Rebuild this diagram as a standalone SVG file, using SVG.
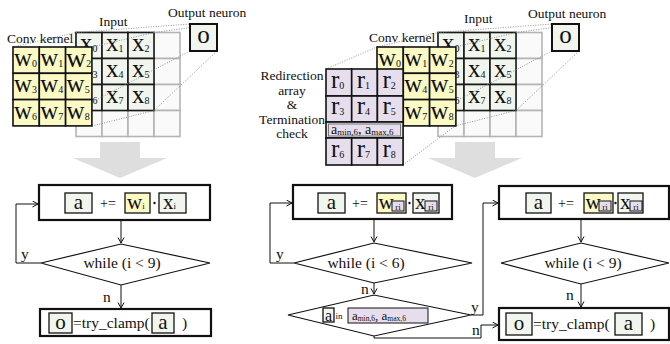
<svg xmlns="http://www.w3.org/2000/svg" width="670" height="344" viewBox="0 0 670 344" font-family="'Liberation Serif', 'DejaVu Serif', serif">
<defs>
<style>
text { font-family: 'Liberation Serif', 'DejaVu Serif', serif; fill: #111; }
.lbl { font-size: 13.5px; }
.v { font-size: 25px; }
.s { font-size: 10px; }
.fv { font-size: 21px; }
.fs { font-size: 9px; }
.op { font-size: 14px; }
.ft { font-size: 15.5px; }
.in-cell { fill: #fafafa; stroke: #b4b4b4; stroke-width: 1.6; }
.rf-cell { fill: #f0f5ee; stroke: #1a1a1a; stroke-width: 1.6; }
.k-cell { fill: #fbf9c4; stroke: #111; stroke-width: 1.6; }
.r-cell { fill: #e6deec; stroke: #111; stroke-width: 1.6; }
.dot { stroke: #888; stroke-width: 0.9; stroke-dasharray: 1 1.5; fill: none; }
.big { fill: #fff; stroke: #111; stroke-width: 2.2; }
.box-g { fill: #f0f5ee; stroke: #111; stroke-width: 1.3; }
.box-y { fill: #fbf9c4; stroke: #111; stroke-width: 1.3; }
.box-p { fill: #e6deec; stroke: #111; stroke-width: 1; }
.dia { fill: #fff; stroke: #111; stroke-width: 1.2; }
.wire { fill: none; stroke: #111; stroke-width: 1; }
.flow { fill: #dedede; }
</style>
<marker id="ah" markerWidth="8" markerHeight="8" refX="6" refY="3.5" orient="auto" markerUnits="userSpaceOnUse">
<path d="M0.5,0.5 L6,3.5 L0.5,6.5" fill="none" stroke="#111" stroke-width="1"/>
</marker>
</defs>

<!-- ============ Left panel: plain convolution ============ -->
<g id="left-input">
<text class="lbl" x="99" y="26">Input</text>
<g>
<rect class="in-cell" x="76" y="32.5" width="26" height="26"/><rect class="in-cell" x="102" y="32.5" width="26" height="26"/><rect class="in-cell" x="128" y="32.5" width="26" height="26"/><rect class="in-cell" x="154" y="32.5" width="26" height="26"/>
<rect class="in-cell" x="76" y="58.5" width="26" height="26"/><rect class="in-cell" x="102" y="58.5" width="26" height="26"/><rect class="in-cell" x="128" y="58.5" width="26" height="26"/><rect class="in-cell" x="154" y="58.5" width="26" height="26"/>
<rect class="in-cell" x="76" y="84.5" width="26" height="26"/><rect class="in-cell" x="102" y="84.5" width="26" height="26"/><rect class="in-cell" x="128" y="84.5" width="26" height="26"/><rect class="in-cell" x="154" y="84.5" width="26" height="26"/>
<rect class="in-cell" x="76" y="110.5" width="26" height="26"/><rect class="in-cell" x="102" y="110.5" width="26" height="26"/><rect class="in-cell" x="128" y="110.5" width="26" height="26"/><rect class="in-cell" x="154" y="110.5" width="26" height="26"/>
</g>
<g>
<rect class="rf-cell" x="76" y="32.5" width="26" height="26"/><rect class="rf-cell" x="102" y="32.5" width="26" height="26"/><rect class="rf-cell" x="128" y="32.5" width="26" height="26"/>
<rect class="rf-cell" x="76" y="58.5" width="26" height="26"/><rect class="rf-cell" x="102" y="58.5" width="26" height="26"/><rect class="rf-cell" x="128" y="58.5" width="26" height="26"/>
<rect class="rf-cell" x="76" y="84.5" width="26" height="26"/><rect class="rf-cell" x="102" y="84.5" width="26" height="26"/><rect class="rf-cell" x="128" y="84.5" width="26" height="26"/>
</g>
<text class="v" x="80" y="51">x<tspan class="s" dy="1">0</tspan></text>
<text class="v" x="106" y="51">x<tspan class="s" dy="1">1</tspan></text>
<text class="v" x="132" y="51">x<tspan class="s" dy="1">2</tspan></text>
<text class="v" x="80" y="77">x<tspan class="s" dy="1">3</tspan></text>
<text class="v" x="106" y="77">x<tspan class="s" dy="1">4</tspan></text>
<text class="v" x="132" y="77">x<tspan class="s" dy="1">5</tspan></text>
<text class="v" x="80" y="103">x<tspan class="s" dy="1">6</tspan></text>
<text class="v" x="106" y="103">x<tspan class="s" dy="1">7</tspan></text>
<text class="v" x="132" y="103">x<tspan class="s" dy="1">8</tspan></text>
</g>

<g id="left-projection">
<path class="dot" d="M13,47 L76,32.5 M92,47 L154,32.5 M92,126 L154,110.5"/>
<path class="dot" d="M76,32.5 L190,24 M154,32.5 L217,24 M154,110.5 L217,51 M76,110.5 L190,51"/>
</g>

<g id="left-kernel">
<text class="lbl" x="7" y="43">Conv kernel</text>
<rect class="k-cell" x="13" y="47" width="26.3" height="26.3"/><rect class="k-cell" x="39.3" y="47" width="26.3" height="26.3"/><rect class="k-cell" x="65.6" y="47" width="26.3" height="26.3"/>
<rect class="k-cell" x="13" y="73.3" width="26.3" height="26.3"/><rect class="k-cell" x="39.3" y="73.3" width="26.3" height="26.3"/><rect class="k-cell" x="65.6" y="73.3" width="26.3" height="26.3"/>
<rect class="k-cell" x="13" y="99.6" width="26.3" height="26.3"/><rect class="k-cell" x="39.3" y="99.6" width="26.3" height="26.3"/><rect class="k-cell" x="65.6" y="99.6" width="26.3" height="26.3"/>
<text class="v" x="14" y="66">w<tspan class="s" dy="1">0</tspan></text>
<text class="v" x="40.3" y="66">w<tspan class="s" dy="1">1</tspan></text>
<text x="66" y="67" style="font-size:28px">w<tspan class="s" dy="0">2</tspan></text>
<text class="v" x="14" y="92">w<tspan class="s" dy="1">3</tspan></text>
<text class="v" x="40.3" y="92">w<tspan class="s" dy="1">4</tspan></text>
<text class="v" x="66.6" y="92">w<tspan class="s" dy="1">5</tspan></text>
<text class="v" x="14" y="118.5">w<tspan class="s" dy="1">6</tspan></text>
<text class="v" x="40.3" y="118.5">w<tspan class="s" dy="1">7</tspan></text>
<text class="v" x="66.6" y="118.5">w<tspan class="s" dy="1">8</tspan></text>
</g>

<g id="left-output">
<text class="lbl" x="168" y="17">Output neuron</text>
<rect x="190" y="24" width="27" height="27" fill="#f0f5ee" stroke="#111" stroke-width="2"/>
<text class="v" x="203.5" y="43" text-anchor="middle">o</text>
</g>

<g id="left-arrow">
<path class="flow" d="M100,142 H140 V158 H167 L120,178 L73,158 H100 Z"/>
</g>

<!-- ============ Right panel: redirected convolution ============ -->
<g id="right-input">
<text class="lbl" x="464" y="22.5">Input</text>
<g>
<rect class="in-cell" x="438" y="32.5" width="26" height="26"/><rect class="in-cell" x="464" y="32.5" width="26" height="26"/><rect class="in-cell" x="490" y="32.5" width="26" height="26"/><rect class="in-cell" x="516" y="32.5" width="26" height="26"/>
<rect class="in-cell" x="438" y="58.5" width="26" height="26"/><rect class="in-cell" x="464" y="58.5" width="26" height="26"/><rect class="in-cell" x="490" y="58.5" width="26" height="26"/><rect class="in-cell" x="516" y="58.5" width="26" height="26"/>
<rect class="in-cell" x="438" y="84.5" width="26" height="26"/><rect class="in-cell" x="464" y="84.5" width="26" height="26"/><rect class="in-cell" x="490" y="84.5" width="26" height="26"/><rect class="in-cell" x="516" y="84.5" width="26" height="26"/>
<rect class="in-cell" x="438" y="110.5" width="26" height="26"/><rect class="in-cell" x="464" y="110.5" width="26" height="26"/><rect class="in-cell" x="490" y="110.5" width="26" height="26"/><rect class="in-cell" x="516" y="110.5" width="26" height="26"/>
</g>
<g>
<rect class="rf-cell" x="438" y="32.5" width="26" height="26"/><rect class="rf-cell" x="464" y="32.5" width="26" height="26"/><rect class="rf-cell" x="490" y="32.5" width="26" height="26"/>
<rect class="rf-cell" x="438" y="58.5" width="26" height="26"/><rect class="rf-cell" x="464" y="58.5" width="26" height="26"/><rect class="rf-cell" x="490" y="58.5" width="26" height="26"/>
<rect class="rf-cell" x="438" y="84.5" width="26" height="26"/><rect class="rf-cell" x="464" y="84.5" width="26" height="26"/><rect class="rf-cell" x="490" y="84.5" width="26" height="26"/>
</g>
<text class="v" x="442" y="51">x<tspan class="s" dy="1">0</tspan></text>
<text class="v" x="468" y="51">x<tspan class="s" dy="1">1</tspan></text>
<text class="v" x="494" y="51">x<tspan class="s" dy="1">2</tspan></text>
<text class="v" x="442" y="77">x<tspan class="s" dy="1">3</tspan></text>
<text class="v" x="468" y="77">x<tspan class="s" dy="1">4</tspan></text>
<text class="v" x="494" y="77">x<tspan class="s" dy="1">5</tspan></text>
<text class="v" x="442" y="103">x<tspan class="s" dy="1">6</tspan></text>
<text class="v" x="468" y="103">x<tspan class="s" dy="1">7</tspan></text>
<text class="v" x="494" y="103">x<tspan class="s" dy="1">8</tspan></text>
</g>

<g id="right-projection">
<path class="dot" d="M377,47 L438,32.5 M455,47 L516,32.5 M455,126 L516,110.5"/>
<path class="dot" d="M438,32.5 L552,24 M516,32.5 L579,24 M516,110.5 L579,51 M438,110.5 L552,51"/>
<path class="dot" d="M326,69 L377,47 M403,165 L455,126"/>
</g>

<g id="right-kernel">
<text class="lbl" x="369" y="42">Conv kernel</text>
<rect class="k-cell" x="377" y="47" width="26.3" height="26.3"/><rect class="k-cell" x="403.3" y="47" width="26.3" height="26.3"/><rect class="k-cell" x="429.6" y="47" width="26.3" height="26.3"/>
<rect class="k-cell" x="377" y="73.3" width="26.3" height="26.3"/><rect class="k-cell" x="403.3" y="73.3" width="26.3" height="26.3"/><rect class="k-cell" x="429.6" y="73.3" width="26.3" height="26.3"/>
<rect class="k-cell" x="377" y="99.6" width="26.3" height="26.3"/><rect class="k-cell" x="403.3" y="99.6" width="26.3" height="26.3"/><rect class="k-cell" x="429.6" y="99.6" width="26.3" height="26.3"/>
<text class="v" x="378" y="66">w<tspan class="s" dy="1">0</tspan></text>
<text class="v" x="404.3" y="66">w<tspan class="s" dy="1">1</tspan></text>
<text class="v" x="430.6" y="66">w<tspan class="s" dy="1">2</tspan></text>
<text class="v" x="404.3" y="92">w<tspan class="s" dy="1">4</tspan></text>
<text class="v" x="430.6" y="92">w<tspan class="s" dy="1">5</tspan></text>
<text class="v" x="404.3" y="118.5">w<tspan class="s" dy="1">7</tspan></text>
<text class="v" x="430.6" y="118.5">w<tspan class="s" dy="1">8</tspan></text>
</g>

<g id="redirection-array">
<text class="lbl" text-anchor="middle" x="292" y="80">Redirection</text>
<text class="lbl" text-anchor="middle" x="292" y="94.5">array</text>
<text class="lbl" text-anchor="middle" x="292" y="109">&amp;</text>
<text class="lbl" text-anchor="middle" x="292" y="123.5">Termination</text>
<text class="lbl" text-anchor="middle" x="292" y="138">check</text>
<rect class="r-cell" x="326" y="69" width="25.7" height="27"/><rect class="r-cell" x="351.7" y="69" width="25.7" height="27"/><rect class="r-cell" x="377.4" y="69" width="25.7" height="27"/>
<rect class="r-cell" x="326" y="96" width="25.7" height="26"/><rect class="r-cell" x="351.7" y="96" width="25.7" height="26"/><rect class="r-cell" x="377.4" y="96" width="25.7" height="26"/>
<rect class="r-cell" x="326" y="122" width="77.1" height="16"/>
<rect x="328.5" y="124" width="72" height="12" fill="#e6deec" stroke="#777" stroke-width="1"/>
<rect class="r-cell" x="326" y="138" width="25.7" height="27"/><rect class="r-cell" x="351.7" y="138" width="25.7" height="27"/><rect class="r-cell" x="377.4" y="138" width="25.7" height="27"/>
<text class="v" x="331" y="88">r<tspan class="s" dy="1">0</tspan></text>
<text class="v" x="356.7" y="88">r<tspan class="s" dy="1">1</tspan></text>
<text class="v" x="382.4" y="88">r<tspan class="s" dy="1">2</tspan></text>
<text class="v" x="331" y="114">r<tspan class="s" dy="1">3</tspan></text>
<text class="v" x="356.7" y="114">r<tspan class="s" dy="1">4</tspan></text>
<text class="v" x="382.4" y="114">r<tspan class="s" dy="1">5</tspan></text>
<text x="331" y="134" style="font-size:14px">a<tspan class="fs" dy="1">min,6</tspan><tspan dy="-1">, a</tspan><tspan class="fs" dy="1">max,6</tspan></text>
<text class="v" x="331" y="157">r<tspan class="s" dy="1">6</tspan></text>
<text class="v" x="356.7" y="157">r<tspan class="s" dy="1">7</tspan></text>
<text class="v" x="382.4" y="157">r<tspan class="s" dy="1">8</tspan></text>
</g>

<g id="right-output">
<text class="lbl" x="528" y="17.5">Output neuron</text>
<rect x="552" y="24" width="27" height="27" fill="#f0f5ee" stroke="#111" stroke-width="2"/>
<text class="v" x="565.5" y="43" text-anchor="middle">o</text>
</g>

<g id="right-arrow">
<path class="flow" d="M455,142 H495 V158 H522 L475,178 L428,158 H455 Z"/>
</g>

<!-- ============ Flowchart: plain loop ============ -->
<g id="l-accum">
<rect class="big" x="39" y="185" width="171" height="35"/>
<rect class="box-g" x="65" y="193" width="27" height="20"/>
<text class="fv" x="78.5" y="209" text-anchor="middle">a</text>
<text class="op" x="100" y="208">+=</text>
<rect class="box-y" x="125" y="193" width="25" height="20"/>
<text class="fv" x="127" y="209">w<tspan class="fs" dy="0">i</tspan></text>
<circle cx="154.5" cy="203" r="1.2" fill="#111"/>
<rect class="box-g" x="159" y="193" width="27" height="20"/>
<text class="fv" x="163" y="209">x<tspan class="fs" dy="0">i</tspan></text>
</g>
<g id="l-while">
<polygon class="dia" points="41,263 121,244 210,263 121,285"/>
<text class="ft" x="122" y="268" text-anchor="middle">while (i &lt; 9)</text>
</g>
<g id="l-clamp">
<rect class="big" x="40" y="309" width="171" height="27"/>
<rect class="box-g" x="49" y="313" width="23" height="20"/>
<text class="fv" x="60.5" y="328.5" text-anchor="middle">o</text>
<text class="ft" x="73" y="328">=try_clamp(</text>
<rect class="box-g" x="152" y="313" width="22" height="20"/>
<text class="fv" x="163" y="328.5" text-anchor="middle">a</text>
<text class="ft" x="182" y="328">)</text>
</g>

<!-- ============ Flowchart: redirected loop with early exit ============ -->
<g id="m-accum">
<rect class="big" x="293" y="185" width="159" height="34"/>
<rect class="box-g" x="318" y="193" width="27" height="20"/>
<text class="fv" x="331.5" y="209" text-anchor="middle">a</text>
<text class="op" x="352" y="208">+=</text>
<rect class="box-y" x="377" y="193" width="29" height="20"/>
<text class="fv" x="378.5" y="209">w</text>
<rect class="box-p" x="392" y="201" width="12" height="10"/>
<text class="fs" x="398" y="209.5" text-anchor="middle">ri</text>
<circle cx="409.5" cy="203" r="1.2" fill="#111"/>
<rect class="box-g" x="413" y="193" width="26" height="20"/>
<text class="fv" x="415" y="209">x</text>
<rect class="box-p" x="425" y="201" width="12" height="10"/>
<text class="fs" x="431" y="209.5" text-anchor="middle">ri</text>
</g>
<g id="m-while">
<polygon class="dia" points="294,263 374,243 472,263 374,283"/>
<text class="ft" x="366" y="268" text-anchor="middle">while (i &lt; 6)</text>
</g>
<g id="m-check">
<polygon class="dia" points="288,315 374,295 471,315 374,336"/>
<rect class="box-g" x="323" y="308" width="11" height="14"/>
<text x="328.5" y="320.5" text-anchor="middle" style="font-size:16px">a</text>
<text x="335.5" y="319" style="font-size:9px">in</text>
<rect class="box-p" x="348" y="308" width="80" height="15" stroke-width="1.3"/>
<text x="352" y="320" style="font-size:13px">a<tspan style="font-size:7.5px" dy="1">min,6</tspan><tspan dy="-1">, a</tspan><tspan style="font-size:7.5px" dy="1">max,6</tspan></text>
</g>

<!-- ============ Flowchart: remaining iterations ============ -->
<g id="r-accum">
<rect class="big" x="499" y="186" width="170" height="33"/>
<rect class="box-g" x="526" y="193" width="25" height="20"/>
<text class="fv" x="538.5" y="209" text-anchor="middle">a</text>
<text class="op" x="558" y="208">+=</text>
<rect class="box-y" x="584" y="193" width="29" height="20"/>
<text class="fv" x="585.5" y="209">w</text>
<rect class="box-p" x="599" y="201" width="12" height="10"/>
<text class="fs" x="605" y="209.5" text-anchor="middle">ri</text>
<circle cx="615.5" cy="203" r="1.2" fill="#111"/>
<rect class="box-g" x="618" y="193" width="25" height="20"/>
<text class="fv" x="620" y="209">x</text>
<rect class="box-p" x="630" y="201" width="12" height="10"/>
<text class="fs" x="636" y="209.5" text-anchor="middle">ri</text>
</g>
<g id="r-while">
<polygon class="dia" points="501,263 581,243 669,263 581,284"/>
<text class="ft" x="583" y="268" text-anchor="middle">while (i &lt; 9)</text>
</g>
<g id="r-clamp">
<rect class="big" x="499" y="308" width="170" height="32"/>
<rect class="box-g" x="506" y="313" width="26" height="22"/>
<text class="fv" x="519" y="329.5" text-anchor="middle">o</text>
<text class="ft" x="533" y="329">=try_clamp(</text>
<rect class="box-g" x="615" y="313" width="27" height="22"/>
<text class="fv" x="628.5" y="329.5" text-anchor="middle">a</text>
<text class="ft" x="650" y="329">)</text>
</g>

<!-- ============ Connectors ============ -->
<g id="connectors">
<path class="wire" d="M121,220 V243" marker-end="url(#ah)"/>
<path class="wire" d="M41,263 H16 V204 H38" marker-end="url(#ah)"/>
<path class="wire" d="M121,285 V308" marker-end="url(#ah)"/>
<text class="ft" x="21" y="259">y</text>
<text class="ft" x="103" y="302">n</text>

<path class="wire" d="M374,219 V242" marker-end="url(#ah)"/>
<path class="wire" d="M294,263 H270 V203 H292" marker-end="url(#ah)"/>
<path class="wire" d="M374,283 V294" marker-end="url(#ah)"/>
<text class="ft" x="276" y="259">y</text>
<text class="ft" x="361" y="294">n</text>

<path class="wire" d="M471,315 H483 V203 H498" marker-end="url(#ah)"/>
<path class="wire" d="M374,336 V338 H481 V325 H498" marker-end="url(#ah)"/>
<text class="ft" x="471" y="312">y</text>
<text class="ft" x="472" y="335">n</text>

<path class="wire" d="M581,219 V242" marker-end="url(#ah)"/>
<path class="wire" d="M581,284 V307" marker-end="url(#ah)"/>
<text class="ft" x="566" y="300">n</text>
</g>
</svg>
